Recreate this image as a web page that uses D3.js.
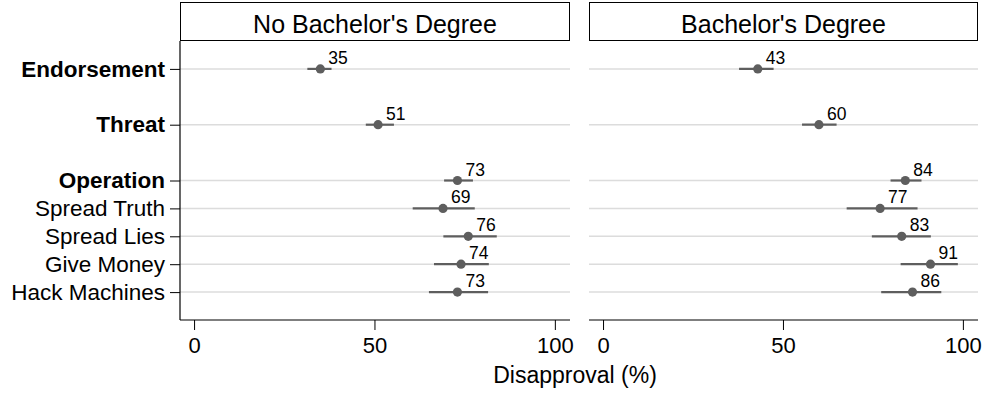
<!DOCTYPE html>
<html><head><meta charset="utf-8">
<script src="https://cdn.jsdelivr.net/npm/d3@7"></script>
<style>body{margin:0;background:#fff}svg{display:block;font-family:"Liberation Sans",Arial,sans-serif}</style>
</head><body><svg id="c" width="987" height="398"></svg>
<script>
const categories = ["Endorsement","Threat","Operation","Spread Truth","Spread Lies","Give Money","Hack Machines"];
const categoryPos = [0,2,4,5,6,7,8];
const boldCats = ["Endorsement","Threat","Operation"];
const panels = ["No Bachelor's Degree","Bachelor's Degree"];
const estNoBA = [35,51,73,69,76,74,73];
const lowNoBA = [31.4,47.6,69.3,60.6,69.1,66.5,65.1];
const highNoBA = [38.1,55.4,77.3,77.8,83.9,81.7,81.5];
const estBA = [43,60,84,77,83,91,86];
const lowBA = [37.8,55.3,79.9,67.7,74.7,82.7,77.3];
const highBA = [47.4,64.9,88.5,87.4,91.1,98.6,94];
const xTicks = [0,50,100];
const xTitle = "Disapproval (%)";

const svg = d3.select("#c");
const panelX = [[180,570],[589,978]];
const plotTop = 41, plotBottom = 320;
const y = d3.scaleLinear().domain([-1,9]).range([plotTop,plotBottom]);
const grey = "#5e5e5e";
const series = [[estNoBA,lowNoBA,highNoBA],[estBA,lowBA,highBA]];
const FF = "Liberation Sans, Arial, sans-serif";

panels.forEach((title,pi)=>{
  const [x0,x1] = panelX[pi];
  const x = d3.scaleLinear().domain([-3.9,104.2]).range([x0,x1]);
  const g = svg.append("g");
  // header
  g.append("rect").attr("x",x0+0.5).attr("y",2.5).attr("width",x1-x0-1).attr("height",plotTop-3)
    .attr("fill","#fff").attr("stroke","#000").attr("stroke-width",1);
  g.append("text").attr("x",(x0+x1)/2).attr("y",33).attr("text-anchor","middle")
    .attr("font-size",25).attr("fill","#000").text(title);
  // gridlines
  categoryPos.forEach(p=>{
    g.append("line").attr("x1",x0).attr("x2",x1).attr("y1",y(p)).attr("y2",y(p))
      .attr("stroke","#dcdcdc").attr("stroke-width",1.5);
  });
  // x axis
  const xa = g.append("g").attr("transform",`translate(0,${plotBottom})`)
    .call(d3.axisBottom(x).tickValues(xTicks).tickSize(10).tickPadding(7).tickSizeOuter(0));
  xa.select(".domain").remove();
  g.append("line").attr("x1",x0).attr("x2",x1).attr("y1",plotBottom).attr("y2",plotBottom).attr("stroke","#000").attr("stroke-width",1.2);
  xa.selectAll("text").attr("font-size",22).attr("fill","#000").attr("font-family",FF);
  xa.selectAll(".tick line").attr("stroke","#000");
  // y axis (left panel only)
  if(pi===0){
    const ya = g.append("g").attr("transform",`translate(${x0},0)`)
      .call(d3.axisLeft(y).tickValues(categoryPos).tickSize(10).tickPadding(5).tickSizeOuter(0)
        .tickFormat((d,i)=>categories[i]));
    ya.select(".domain").remove();
    g.append("line").attr("x1",x0).attr("x2",x0).attr("y1",plotTop).attr("y2",plotBottom).attr("stroke","#000").attr("stroke-width",1.2);
    ya.selectAll("text").attr("font-size",22.5).attr("fill","#000").attr("font-family",FF)
      .attr("font-weight",(d,i)=>boldCats.includes(categories[i])?"bold":"normal");
    ya.selectAll(".tick line").attr("stroke","#000");
  }
  const [est,low,high] = series[pi];
  categories.forEach((c,i)=>{
    const yy = y(categoryPos[i]);
    g.append("line").attr("x1",x(low[i])).attr("x2",x(high[i])).attr("y1",yy).attr("y2",yy)
      .attr("stroke",grey).attr("stroke-width",2.2);
    g.append("circle").attr("cx",x(est[i])).attr("cy",yy).attr("r",4.6).attr("fill",grey);
    g.append("text").attr("x",x(est[i])+8).attr("y",yy-5).attr("font-size",17.5).attr("fill","#000").text(est[i]);
  });
});
svg.append("text").attr("x",575).attr("y",383).attr("text-anchor","middle").attr("font-size",23).attr("fill","#000").text(xTitle);
</script></body></html>
